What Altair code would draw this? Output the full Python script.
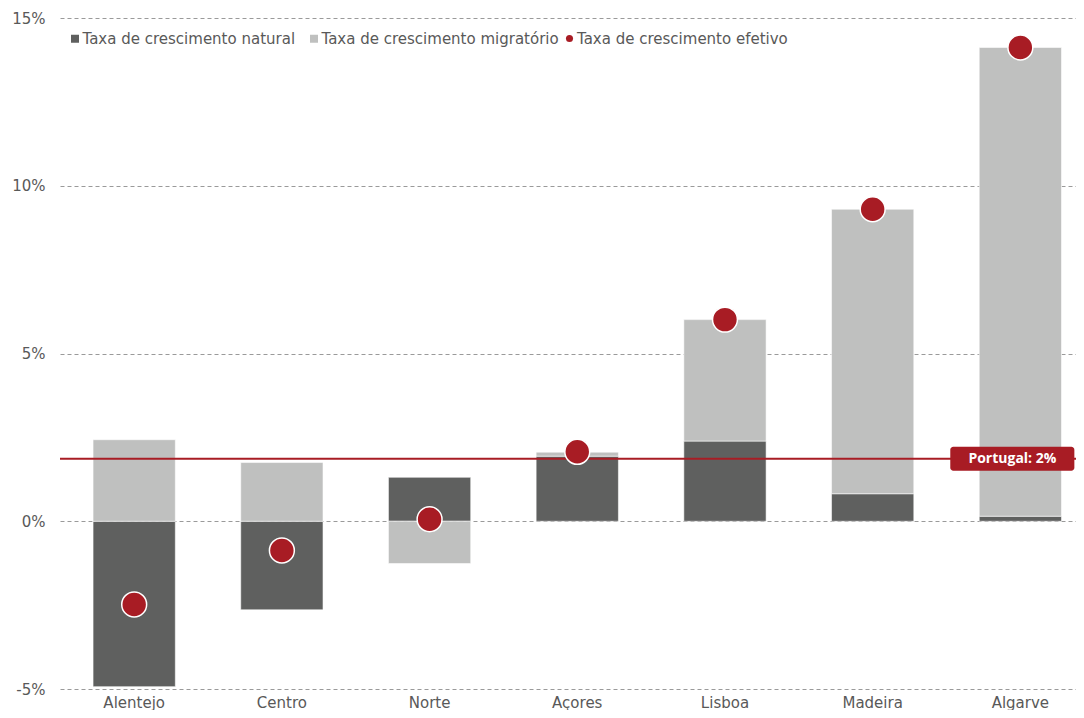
import altair as alt
import pandas as pd

regioes = ["Alentejo", "Centro", "Norte", "Açores", "Lisboa", "Madeira", "Algarve"]
natural = [-4.93, -2.64, 1.31, 1.94, 2.39, 0.82, 0.15]
migratorio = [2.43, 1.75, -1.26, 0.12, 3.62, 8.48, 13.97]
efetivo = [-2.48, -0.87, 0.06, 2.07, 6.01, 9.30, 14.12]
portugal = [1.86]
portugal_label = ["Portugal: 2%"]
serie_nat = "Taxa de crescimento natural"
serie_mig = "Taxa de crescimento migratório"
serie_efe = "Taxa de crescimento efetivo"
y_ticks = [-5, 0, 5, 10, 15]

DARK = "#5f605f"
LIGHT = "#bfc0bf"
RED = "#a81c24"
TXT = "#595959"

bars_df = pd.DataFrame({
    "regiao": regioes * 2,
    "serie": [serie_nat] * len(regioes) + [serie_mig] * len(regioes),
    "ordem": [0] * len(regioes) + [1] * len(regioes),
    "valor": natural + migratorio,
})
dots_df = pd.DataFrame({"regiao": regioes, "valor": efetivo, "serie": [serie_efe] * len(regioes)})
pt_df = pd.DataFrame({"regiao": [regioes[-1]], "valor": portugal, "label": portugal_label})

xscale = alt.Scale(domain=regioes, paddingInner=0.443, paddingOuter=0.161, align=0.695)
yscale = alt.Scale(domain=[-5, 15], nice=False, zero=False)

x_enc = alt.X("regiao:N", scale=xscale, sort=regioes,
              axis=alt.Axis(title=None, labelAngle=0, ticks=False, domain=False,
                            labelPadding=6, grid=False))
y_axis = alt.Axis(title=None, values=y_ticks, labelExpr="datum.value + '%'", ticks=False,
                  domain=False, labelPadding=15, grid=True, gridDash=[4, 3],
                  gridColor="#9a9a9a", gridWidth=1)

bars = alt.Chart(bars_df).mark_bar(stroke="#ffffff", strokeWidth=0.8, strokeOpacity=0.7).encode(
    x=x_enc,
    y=alt.Y("valor:Q", scale=yscale, axis=y_axis, stack="zero"),
    color=alt.Color("serie:N",
                    scale=alt.Scale(domain=[serie_nat, serie_mig], range=[DARK, LIGHT]),
                    legend=alt.Legend(title=None, orient="none", legendX=7.5, legendY=13,
                                      direction="horizontal", symbolType="square",
                                      symbolSize=64, symbolStrokeWidth=0,
                                      labelFontSize=15, labelColor=TXT, labelFont="DejaVu Sans",
                                      labelLimit=500, columnPadding=11, labelOffset=0,
                                      padding=0)),
    order=alt.Order("ordem:Q"),
)

rule = alt.Chart(pt_df).mark_rule(color=RED, strokeWidth=2).encode(
    y=alt.Y("valor:Q", scale=yscale),
)

box_path = ("M-5.59,-1 H4.25 A0.25,0.25 0 0 1 4.5,-0.75 V0.75 A0.25,0.25 0 0 1 4.25,1 "
            "H-5.59 A0.25,0.25 0 0 1 -5.84,0.75 V-0.75 A0.25,0.25 0 0 1 -5.59,-1 Z")
box = alt.Chart(pt_df).mark_point(shape=box_path, size=576, filled=True, fill=RED,
                                  opacity=1, strokeWidth=0).encode(
    x=alt.X("regiao:N", scale=xscale, sort=regioes),
    y=alt.Y("valor:Q", scale=yscale),
)
box_text = alt.Chart(pt_df).mark_text(color="#ffffff", font="Open Sans", fontWeight="bold",
                                      fontSize=14, dx=-8, baseline="middle",
                                      align="center").encode(
    x=alt.X("regiao:N", scale=xscale, sort=regioes),
    y=alt.Y("valor:Q", scale=yscale),
    text="label:N",
)

dots = alt.Chart(dots_df).mark_circle(size=620, opacity=1, stroke="#ffffff", strokeWidth=1.5).encode(
    x=alt.X("regiao:N", scale=xscale, sort=regioes),
    y=alt.Y("valor:Q", scale=yscale),
    color=alt.Color("serie:N",
                    scale=alt.Scale(domain=[serie_efe], range=[RED]),
                    legend=alt.Legend(title=None, orient="none", legendX=502, legendY=13,
                                      direction="horizontal", symbolType="circle",
                                      symbolSize=50, symbolStrokeWidth=0,
                                      labelFontSize=15, labelColor=TXT, labelFont="DejaVu Sans",
                                      labelLimit=500, labelOffset=0, padding=0)),
)

chart = alt.layer(bars, rule, box, box_text, dots).resolve_scale(color="independent").properties(
    width=1016, height=671,
    autosize=alt.AutoSizeParams(type="none"),
    padding={"left": 52, "top": 10, "right": 0, "bottom": 21},
).configure_view(stroke=None).configure_axis(
    labelFont="DejaVu Sans", labelFontSize=15, labelColor=TXT
)

chart.save("out.html", embed_options={"renderer": "svg", "actions": False})
